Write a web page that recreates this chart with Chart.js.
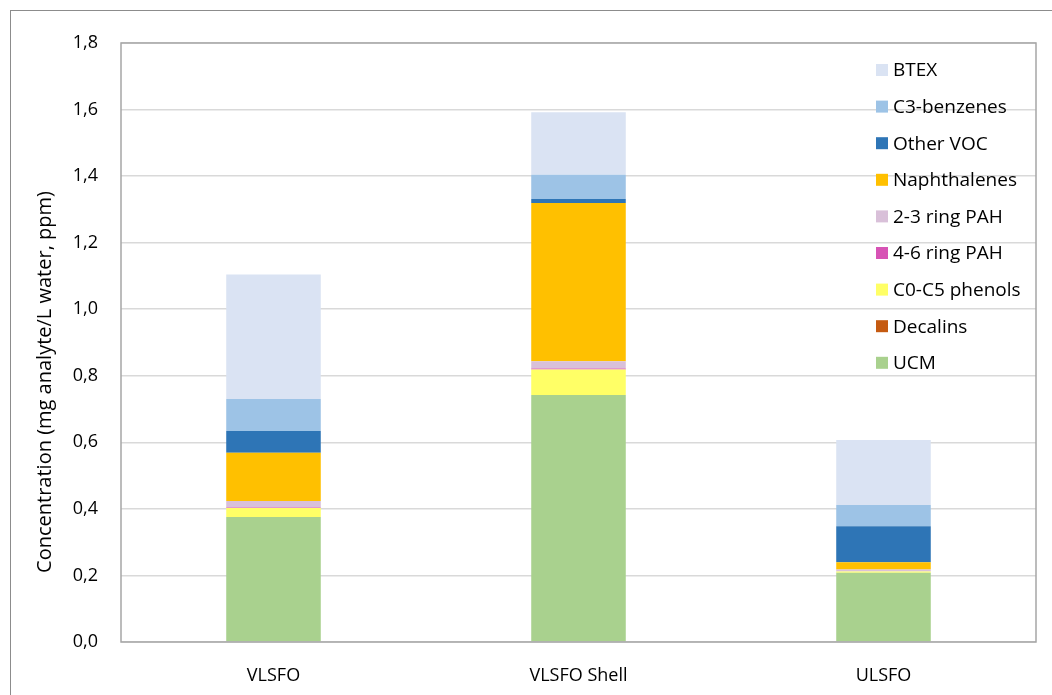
<!DOCTYPE html>
<html>
<head>
<meta charset="utf-8">
<script src="https://cdn.jsdelivr.net/npm/chart.js@4"></script>
<style>
  body { margin: 0; background: #fff; }
  canvas { display: block; }
</style>
</head>
<body>
<canvas id="myChart" width="1052" height="695"></canvas>
<script>
const categories = ["VLSFO", "VLSFO Shell", "ULSFO"];
const ucm = [0.376, 0.742, 0.208];
const decalins = [0, 0, 0];
const phenols = [0.027, 0.077, 0.004];
const pah46 = [0.001, 0.003, 0];
const pah23 = [0.02, 0.022, 0.006];
const naphthalenes = [0.145, 0.475, 0.022];
const otherVoc = [0.065, 0.012, 0.108];
const c3benzenes = [0.096, 0.073, 0.064];
const btex = [0.374, 0.188, 0.195];
const yTickLabels = ["0,0", "0,2", "0,4", "0,6", "0,8", "1,0", "1,2", "1,4", "1,6", "1,8"];
const yTitle = "Concentration (mg analyte/L water, ppm)";

const FONT = "'Open Sans', sans-serif";

// frame round the whole picture, box round plot area, y title
const frames = {
  id: "frames",
  beforeDraw(chart) {
    const c = chart.ctx;
    c.save();
    c.strokeStyle = "#8c8c8c";
    c.lineWidth = 1;
    c.strokeRect(10.5, 10.5, 1200, 1200);
    c.restore();
  },
  afterDatasetsDraw(chart) {
    const a = chart.chartArea;
    const c = chart.ctx;
    c.save();
    c.strokeStyle = "#a6a6a6";
    c.lineWidth = 1.5;
    c.strokeRect(a.left, a.top, a.right - a.left, a.bottom - a.top);
    // y title, sits a bit below middle like the original
    c.translate(45, 382);
    c.rotate(-Math.PI / 2);
    c.font = "20px " + FONT;
    c.fillStyle = "#000";
    c.textAlign = "center";
    c.textBaseline = "middle";
    c.fillText(yTitle, 0, 0);
    c.restore();
  },
};

// legend inside the plot, top item = last dataset
const insideLegend = {
  id: "insideLegend",
  afterDraw(chart) {
    const c = chart.ctx;
    const sets = chart.data.datasets.slice().reverse();
    c.save();
    c.font = "19px " + FONT;
    c.textBaseline = "middle";
    sets.forEach((ds, i) => {
      const y = 70 + i * 36.6;
      c.fillStyle = ds.backgroundColor;
      c.fillRect(876, y - 6, 12, 12);
      c.fillStyle = "#000";
      c.fillText(ds.label, 893, y + 1);
    });
    c.restore();
  },
};

const ctx = document.getElementById("myChart");

new Chart(ctx, {
  type: "bar",
  data: {
    labels: categories,
    datasets: [
      { label: "UCM", data: ucm, backgroundColor: "#a9d18e" },
      { label: "Decalins", data: decalins, backgroundColor: "#c55a11" },
      { label: "C0-C5 phenols", data: phenols, backgroundColor: "#ffff66" },
      { label: "4-6 ring PAH", data: pah46, backgroundColor: "#d753b5" },
      { label: "2-3 ring PAH", data: pah23, backgroundColor: "#d9c0d9" },
      { label: "Naphthalenes", data: naphthalenes, backgroundColor: "#ffc000" },
      { label: "Other VOC", data: otherVoc, backgroundColor: "#2e75b6" },
      { label: "C3-benzenes", data: c3benzenes, backgroundColor: "#9dc3e6" },
      { label: "BTEX", data: btex, backgroundColor: "#dae3f3" },
    ],
  },
  options: {
    responsive: false,
    animation: false,
    layout: { padding: { top: 43, right: 16, left: 0, bottom: 0 } },
    datasets: { bar: { barPercentage: 0.31, categoryPercentage: 1, borderWidth: 0 } },
    plugins: { legend: { display: false }, tooltip: { enabled: false } },
    scales: {
      x: {
        stacked: true,
        grid: { display: false },
        border: { display: false },
        ticks: { color: "#000", font: { family: FONT, size: 18 }, padding: 15 },
        afterFit: (s) => { s.height = 53; },
      },
      y: {
        stacked: true,
        min: 0,
        max: 1.8,
        ticks: {
          stepSize: 0.2,
          color: "#000",
          font: { family: FONT, size: 18 },
          padding: 23,
          callback: (v, i) => yTickLabels[i],
        },
        grid: { color: "#d9d9d9", lineWidth: 1.5, drawTicks: false },
        border: { display: false },
        afterFit: (s) => { s.width = 121; },
      },
    },
  },
  plugins: [frames, insideLegend],
});
</script>
</body>
</html>
